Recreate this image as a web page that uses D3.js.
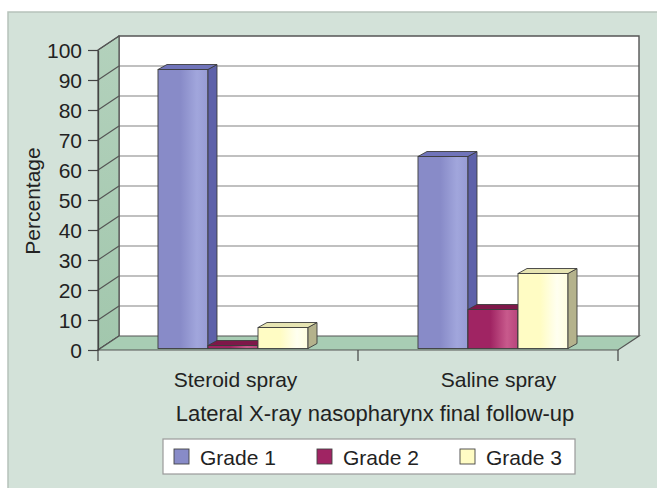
<!DOCTYPE html>
<html>
<head>
<meta charset="utf-8">
<script src="https://cdn.jsdelivr.net/npm/d3@7"></script>
<style>
  html, body { margin: 0; padding: 0; background: #ffffff; }
  svg { display: block; font-family: "Liberation Sans", Arial, sans-serif; }
</style>
</head>
<body>
<svg id="chart" width="657" height="488"></svg>
<script>
// ---- data ----
const categories = ["Steroid spray", "Saline spray"];
const grades = ["Grade 1", "Grade 2", "Grade 3"];
const steroidValues = [93, 1, 7];
const salineValues = [64, 13, 25];
const yTicks = [0, 10, 20, 30, 40, 50, 60, 70, 80, 90, 100];
const yLabel = "Percentage";
const xTitle = "Lateral X-ray nasopharynx final follow-up";

const seriesValues = [steroidValues, salineValues];

// ---- styles ----
const front = ["#888bc8", "#a02463", "#fffcc4"];
const frontLight = ["#a1a6dc", "#c85a8c", "#fffff0"];
const sideC = ["#5d61a9", "#6b0f3e", "#b4b28c"];
const topC = ["#7074ba", "#7e1849", "#e6e4b2"];
const fontFam = "'Liberation Sans', Arial, sans-serif";

const svg = d3.select("#chart");
const defs = svg.append("defs");
grades.forEach((g, i) => {
  const lg = defs.append("linearGradient").attr("id", "g" + i)
    .attr("x1", "0%").attr("x2", "100%").attr("y1", "0%").attr("y2", "0%");
  lg.append("stop").attr("offset", "0%").attr("stop-color", front[i]);
  lg.append("stop").attr("offset", "45%").attr("stop-color", front[i]);
  lg.append("stop").attr("offset", "78%").attr("stop-color", frontLight[i]);
  lg.append("stop").attr("offset", "100%").attr("stop-color", d3.interpolateRgb(front[i], frontLight[i])(0.6));
});
const wallG = defs.append("linearGradient").attr("id", "wallg")
  .attr("x1", "0%").attr("x2", "0%").attr("y1", "0%").attr("y2", "100%");
wallG.append("stop").attr("offset", "0%").attr("stop-color", "#b3d1bc");
wallG.append("stop").attr("offset", "100%").attr("stop-color", "#a2c7ad");

// panel
svg.append("rect").attr("x", 8).attr("y", 12).attr("width", 660).attr("height", 490)
  .attr("fill", "#d3e2d9").attr("stroke", "#b7c2ba").attr("stroke-width", 1.5);

// ---- geometry ----
const x0Left = 98, x0Right = 618;
const depthX = 21, depthY = -14;
const y = d3.scaleLinear().domain([0, 100]).range([350, 50]);
const yBack = v => y(v) + depthY;

const floorPts = [[x0Left, y(0)], [x0Right, y(0)], [x0Right + depthX, y(0) + depthY], [x0Left + depthX, y(0) + depthY]];

// back wall
svg.append("rect").attr("x", x0Left + depthX).attr("y", yBack(100))
  .attr("width", x0Right - x0Left).attr("height", yBack(0) - yBack(100))
  .attr("fill", "#ffffff");
svg.append("g").selectAll("line").data(yTicks.filter(v => v > 0 && v < 100)).join("line")
  .attr("x1", x0Left + depthX).attr("x2", x0Right + depthX)
  .attr("y1", d => yBack(d)).attr("y2", d => yBack(d))
  .attr("stroke", "#ababab").attr("stroke-width", 1.6);
svg.append("polyline")
  .attr("points", [[x0Left + depthX, yBack(0)], [x0Left + depthX, yBack(100)], [x0Right + depthX, yBack(100)], [x0Right + depthX, yBack(0)]].map(p => p.join(",")).join(" "))
  .attr("fill", "none").attr("stroke", "#555").attr("stroke-width", 1.4);

// side wall
const sidePts = [[x0Left, y(0)], [x0Left, y(100)], [x0Left + depthX, yBack(100)], [x0Left + depthX, yBack(0)]];
svg.append("polygon").attr("points", sidePts.map(p => p.join(",")).join(" "))
  .attr("fill", "url(#wallg)").attr("stroke", "#555").attr("stroke-width", 1.2);
svg.append("g").selectAll("line").data(yTicks).join("line")
  .attr("x1", x0Left).attr("x2", x0Left + depthX)
  .attr("y1", d => y(d)).attr("y2", d => yBack(d))
  .attr("stroke", "#555").attr("stroke-width", 1.1);
// floor
svg.append("polygon").attr("points", floorPts.map(p => p.join(",")).join(" "))
  .attr("fill", "#a8cdb4").attr("stroke", "#555").attr("stroke-width", 1.2);

// ---- bars ----
const x0 = d3.scaleBand().domain(categories).range([x0Left + 3, x0Right + 3]).paddingInner(0.423).paddingOuter(0.2115);
const x1 = d3.scaleBand().domain(grades).range([0, x0.bandwidth()]);
const barShiftX = 2, barShiftY = -1.5;
const bdx = 9, bdy = -5;
const yb = v => y(v) + barShiftY;

const barsG = svg.append("g");
categories.forEach((c, ci) => {
  grades.forEach((g, gi) => {
    const v = seriesValues[ci][gi];
    const xl = x0(c) + x1(g) + barShiftX;
    const xr = xl + x1.bandwidth();
    const yt = yb(v), ybase = yb(0);
    const gg = barsG.append("g");
    gg.append("rect").attr("x", xl).attr("y", yt).attr("width", xr - xl).attr("height", ybase - yt)
      .attr("fill", `url(#g${gi})`).attr("stroke", "#3c3c3c").attr("stroke-width", 0.9);
    gg.append("polygon").attr("points", [[xr, ybase], [xr + bdx, ybase + bdy], [xr + bdx, yt + bdy], [xr, yt]].map(p => p.join(",")).join(" "))
      .attr("fill", sideC[gi]).attr("stroke", "#3c3c3c").attr("stroke-width", 0.9).attr("stroke-linejoin", "round");
    gg.append("polygon").attr("points", [[xl, yt], [xl + bdx, yt + bdy], [xr + bdx, yt + bdy], [xr, yt]].map(p => p.join(",")).join(" "))
      .attr("fill", topC[gi]).attr("stroke", "#3c3c3c").attr("stroke-width", 0.9).attr("stroke-linejoin", "round");
  });
});

// ---- axes ----
const yAxis = d3.axisLeft(y).tickValues(yTicks).tickSize(10).tickPadding(6).tickSizeOuter(0);
const yg = svg.append("g").attr("transform", `translate(${x0Left},0)`).call(yAxis);
yg.select(".domain").attr("stroke", "#444").attr("stroke-width", 1.3);
yg.selectAll(".tick line").attr("stroke", "#444").attr("stroke-width", 1.2);
yg.selectAll(".tick text").attr("fill", "#222").style("font-size", "21px")
  .style("font-family", fontFam).attr("dy", "0.36em");

// category ticks
const catBounds = [x0Left, (x0Left + x0Right) / 2, x0Right];
svg.append("g").selectAll("line").data(catBounds).join("line")
  .attr("x1", d => d).attr("x2", d => d).attr("y1", y(0)).attr("y2", y(0) + 11)
  .attr("stroke", "#444").attr("stroke-width", 1.2);

// category labels
const xlab = d3.scaleBand().domain(categories).range([104, 630]);
svg.append("g").selectAll("text").data(categories).join("text")
  .attr("x", d => xlab(d) + xlab.bandwidth() / 2).attr("y", 387)
  .attr("text-anchor", "middle").attr("fill", "#222").style("font-size", "21px")
  .text(d => d);

// x title
svg.append("text").attr("x", 375).attr("y", 421).attr("text-anchor", "middle")
  .attr("fill", "#222").style("font-size", "22px").text(xTitle);

// y label
svg.append("text").attr("transform", "translate(40,201) rotate(-90)").attr("text-anchor", "middle")
  .attr("fill", "#222").style("font-size", "21px").text(yLabel);

// ---- legend ----
svg.append("rect").attr("x", 163).attr("y", 439).attr("width", 412).attr("height", 35)
  .attr("fill", "#ffffff").attr("stroke", "#9a9a9a").attr("stroke-width", 1.2);
const lx = d3.scalePoint().domain(grades).range([174, 460]);
const lg = svg.append("g").selectAll("g").data(grades).join("g")
  .attr("transform", d => `translate(${lx(d)},449)`);
lg.append("rect").attr("width", 15).attr("height", 15)
  .attr("fill", (d, i) => front[i]).attr("stroke", "#444").attr("stroke-width", 0.9);
lg.append("text").attr("x", 26).attr("y", 16).attr("fill", "#222").style("font-size", "21px")
  .text(d => d);
</script>
</body>
</html>
